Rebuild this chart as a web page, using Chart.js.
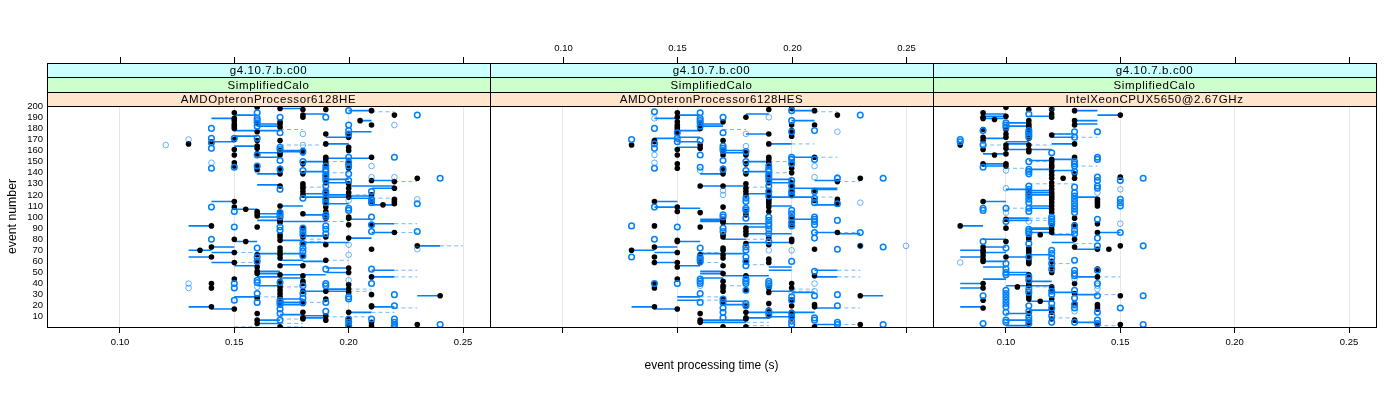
<!DOCTYPE html>
<html>
<head>
<meta charset="utf-8">
<title>event processing time</title>
<script src="https://cdn.jsdelivr.net/npm/chart.js@4/dist/chart.umd.min.js"></script>
<style>
  html, body { margin: 0; background: #fff; }
  canvas { position: absolute; top: 0; }
</style>
</head>
<body>
<canvas id="panelHE" width="500" height="400" style="left:0"></canvas>
<canvas id="panelHES" width="463" height="400" style="left:480px"></canvas>
<canvas id="panelXeon" width="477" height="400" style="left:923px"></canvas>
<script>
// tick labels
const xTicks = [0.10, 0.15, 0.20, 0.25];
const yTicks = [10, 20, 30, 40, 50, 60, 70, 80, 90, 100, 110, 120, 130, 140, 150, 160, 170, 180, 190, 200];
const stripGeant = 'g4.10.7.b.c00';
const stripGeometry = 'SimplifiedCalo';
const cpuNames = ['AMDOpteronProcessor6128HE', 'AMDOpteronProcessor6128HES', 'IntelXeonCPUX5650@2.67GHz'];

// dots / rings are [time, [event numbers]], segments are [from, to, event]
//  AMD 6128HE
const heDots = [
  [0.13, [166]],
  [0.135, [70]],
  [0.14, [168, 92, 73, 64, 40, 36, 19]],
  [0.15, [194, 189, 187, 184, 182, 180, 170, 161, 156, 149, 146, 114, 109, 80, 68, 59, 44, 17]],
  [0.155, [107, 78]],
  [0.16, [199, 185, 177, 169, 164, 162, 157, 146, 143, 105, 103, 101, 91, 66, 59, 55, 51, 49, 27, 13, 7, 4]],
  [0.17, [198, 186, 184, 181, 169, 160, 158, 156, 144, 139, 128, 110, 104, 98, 97, 96, 95, 84, 82, 79, 72, 69, 66, 63, 56, 48, 42, 37, 34, 31, 28, 26, 23, 21, 1]],
  [0.18, [197, 192, 190, 160, 158, 148, 139, 130, 128, 126, 123, 120, 103, 90, 84, 82, 75, 65, 56, 47, 42, 40, 33, 22, 14, 9, 8]],
  [0.19, [197, 175, 166, 154, 152, 149, 147, 138, 135, 131, 124, 120, 116, 114, 112, 109, 105, 99, 82, 75, 61, 33, 26, 11, 7]],
  [0.20, [175, 172, 163, 160, 150, 144, 130, 126, 122, 118, 100, 99, 93, 81, 54, 50, 39, 35, 32, 14, 8, 3]],
  [0.205, [187]],
  [0.21, [196, 183, 154, 133, 120, 114, 93, 71, 46, 30, 20, 19, 5, 2]],
  [0.215, [111]],
  [0.22, [192, 132, 126, 116, 114, 112, 86]],
  [0.23, [135, 74, 3]],
  [0.24, [29]]
];
const heRings = [
  [0.14, [180, 171, 167, 162, 144, 109, 80]],
  [0.15, [171, 145, 105, 91, 40, 36, 25]],
  [0.16, [194, 189, 187, 185, 182, 171, 156, 146, 72, 64, 60, 43, 41, 31, 23]],
  [0.17, [190, 176, 163, 161, 151, 143, 125, 104, 102, 100, 91, 88, 41, 25, 23, 21, 17, 13, 7]],
  [0.18, [159, 150, 142, 117, 90, 87, 84, 76, 72, 69, 65, 38, 31, 27, 23]],
  [0.19, [190, 146, 143, 141, 138, 136, 133, 128, 123, 121, 116, 113, 102, 100, 92, 89, 85, 53, 40, 38, 23, 15]],
  [0.20, [196, 183, 178, 175, 154, 149, 146, 139, 133, 108, 106, 28, 26, 8, 5, 2]],
  [0.21, [123, 116, 113, 100, 93, 87, 53, 40, 8]],
  [0.22, [154, 30, 20, 8, 5, 3, 2, 1]],
  [0.23, [192, 112, 87]],
  [0.24, [135, 3]]
];
const hePale = [
  [0.12, [165]], [0.13, [170, 40, 36]], [0.14, [149]], [0.16, [142, 37]], [0.18, [175, 165]],
  [0.20, [115, 75, 66, 43]], [0.21, [146, 136, 115]], [0.22, [183, 136]], [0.23, [116, 71]]
];
const heSolid = [
  [0.14, 0.15, 189], [0.14, 0.15, 168], [0.15, 0.16, 192], [0.15, 0.16, 173], [0.15, 0.16, 178], [0.15, 0.16, 164],
  [0.16, 0.17, 184], [0.16, 0.17, 182], [0.16, 0.17, 158], [0.16, 0.17, 154], [0.16, 0.17, 178], [0.17, 0.18, 160], [0.17, 0.18, 159],
  [0.16, 0.17, 139], [0.16, 0.17, 129], [0.18, 0.19, 193], [0.17, 0.18, 198], [0.19, 0.20, 172], [0.19, 0.20, 166],
  [0.20, 0.21, 196], [0.205, 0.21, 187], [0.20, 0.21, 177], [0.19, 0.21, 153], [0.18, 0.19, 150], [0.18, 0.19, 141],
  [0.19, 0.20, 134], [0.21, 0.22, 133], [0.19, 0.20, 131], [0.20, 0.22, 128], [0.21, 0.22, 126], [0.18, 0.19, 121],
  [0.18, 0.20, 118], [0.20, 0.21, 117], [0.19, 0.20, 112], [0.21, 0.22, 111], [0.14, 0.15, 114], [0.15, 0.16, 107],
  [0.17, 0.18, 110], [0.16, 0.17, 103], [0.16, 0.17, 100], [0.16, 0.17, 97], [0.17, 0.19, 96], [0.18, 0.19, 102],
  [0.20, 0.21, 98], [0.21, 0.22, 94], [0.21, 0.22, 86], [0.13, 0.14, 92], [0.18, 0.19, 83], [0.20, 0.21, 81],
  [0.15, 0.16, 78], [0.17, 0.18, 79], [0.18, 0.20, 77], [0.13, 0.14, 70], [0.14, 0.15, 73], [0.14, 0.15, 68],
  [0.16, 0.18, 67], [0.23, 0.24, 74], [0.13, 0.14, 64], [0.14, 0.15, 59], [0.15, 0.16, 56], [0.17, 0.18, 61], [0.18, 0.19, 60],
  [0.17, 0.18, 57], [0.19, 0.20, 54], [0.19, 0.20, 50], [0.21, 0.22, 52], [0.21, 0.22, 46], [0.16, 0.17, 51], [0.16, 0.17, 49],
  [0.17, 0.19, 48], [0.16, 0.17, 46], [0.17, 0.18, 45], [0.16, 0.17, 38], [0.19, 0.20, 35], [0.18, 0.20, 33], [0.15, 0.16, 28],
  [0.17, 0.18, 26], [0.17, 0.18, 23], [0.17, 0.18, 21], [0.13, 0.14, 19], [0.14, 0.15, 17], [0.21, 0.22, 19], [0.23, 0.24, 29],
  [0.20, 0.21, 14], [0.17, 0.18, 12], [0.18, 0.19, 11], [0.18, 0.19, 9], [0.16, 0.17, 7], [0.16, 0.17, 4], [0.19, 0.20, 120], [0.20, 0.21, 119]
];
const heDashed = [
  [0.21, 0.22, 195], [0.17, 0.18, 179], [0.19, 0.20, 150], [0.19, 0.20, 140], [0.22, 0.23, 132], [0.17, 0.19, 165],
  [0.21, 0.22, 117], [0.18, 0.19, 127], [0.22, 0.23, 94], [0.22, 0.23, 86], [0.24, 0.25, 74], [0.15, 0.16, 68],
  [0.19, 0.20, 61], [0.15, 0.16, 59], [0.18, 0.19, 80], [0.18, 0.19, 78], [0.22, 0.23, 52], [0.22, 0.23, 46], [0.17, 0.18, 37],
  [0.20, 0.21, 35], [0.20, 0.21, 33], [0.16, 0.17, 28], [0.18, 0.19, 23], [0.22, 0.23, 18], [0.21, 0.22, 14], [0.19, 0.21, 10],
  [0.17, 0.18, 8], [0.17, 0.18, 4], [0.15, 0.16, 1], [0.17, 0.18, 1], [0.19, 0.20, 96], [0.20, 0.21, 120]
];

//  AMD 6128HES
const hesDots = [
  [0.13, [165, 70]],
  [0.14, [169, 168, 114, 92, 73, 64, 59, 40, 36, 19]],
  [0.15, [194, 190, 186, 183, 181, 179, 176, 161, 156, 148, 144, 109, 105, 79, 78, 68, 59, 55, 44, 17]],
  [0.16, [185, 180, 165, 162, 128, 104, 91, 66, 59, 13, 7, 5]],
  [0.17, [186, 169, 160, 159, 156, 144, 139, 128, 109, 98, 97, 96, 95, 84, 82, 72, 70, 66, 63, 56, 49, 42, 38, 36, 33, 26, 23, 1]],
  [0.18, [190, 158, 156, 148, 139, 130, 126, 123, 120, 105, 102, 90, 87, 84, 76, 60, 47, 34, 20, 14, 9, 8, 1]],
  [0.19, [197, 175, 166, 154, 152, 149, 147, 138, 135, 131, 124, 120, 116, 114, 112, 109, 105, 81, 75, 62, 59, 36, 32, 22, 16, 11]],
  [0.20, [198, 183, 178, 176, 173, 149, 144, 140, 131, 128, 125, 122, 120, 100, 96, 93, 80, 78, 40, 36, 25, 20, 14, 9]],
  [0.21, [196, 183, 154, 124, 115, 71, 47, 21, 19, 1]],
  [0.22, [192, 132, 116, 114, 112, 86]],
  [0.23, [135, 74, 29, 3]]
];
const hesRings = [
  [0.13, [170, 92, 64]],
  [0.14, [195, 180, 166, 162, 144, 109, 80, 40]],
  [0.15, [176, 171, 168, 91, 40]],
  [0.16, [194, 189, 187, 185, 182, 169, 156, 145, 72, 64, 62, 60, 44, 42, 40, 31, 23]],
  [0.17, [190, 176, 164, 162, 160, 151, 143, 102, 100, 90, 87, 26, 23, 18, 14, 9]],
  [0.18, [159, 150, 142, 117, 114, 108, 106, 99, 73, 70, 64, 60, 56, 44, 42, 40, 34, 22, 20]],
  [0.19, [146, 143, 141, 138, 136, 133, 128, 123, 119, 100, 97, 94, 92, 89, 85, 78, 42, 40, 38, 15, 12]],
  [0.20, [196, 187, 177, 154, 152, 148, 133, 128, 123, 120, 106, 103, 99, 95, 92, 60, 28, 25, 13, 10, 6, 3]],
  [0.21, [178, 152, 123, 117, 113, 100, 98, 96, 93, 86, 81, 51, 29, 9, 7]],
  [0.22, [135, 112, 97, 71, 30, 20, 5, 3]],
  [0.23, [192, 86]],
  [0.24, [135, 73, 3]]
];
const hesPale = [
  [0.14, [189, 156, 149]], [0.16, [142, 38]], [0.17, [124, 120]], [0.18, [175, 164]],
  [0.19, [190, 70]], [0.20, [70, 32]], [0.21, [146, 136, 40, 33]], [0.22, [177, 136]], [0.23, [113, 74]], [0.25, [74]]
];
const hesSolid = [
  [0.14, 0.15, 189], [0.14, 0.15, 171], [0.14, 0.15, 114], [0.14, 0.15, 109], [0.15, 0.16, 192], [0.15, 0.16, 178], [0.15, 0.16, 172],
  [0.15, 0.16, 168], [0.15, 0.16, 163], [0.15, 0.16, 108], [0.16, 0.17, 184], [0.16, 0.17, 182], [0.16, 0.17, 139], [0.16, 0.18, 128],
  [0.17, 0.18, 160], [0.17, 0.18, 158], [0.18, 0.19, 193], [0.18, 0.19, 175], [0.18, 0.19, 150], [0.18, 0.19, 141], [0.18, 0.19, 121],
  [0.19, 0.20, 166], [0.19, 0.20, 134], [0.19, 0.20, 131], [0.20, 0.21, 196], [0.20, 0.21, 187], [0.20, 0.22, 126], [0.20, 0.21, 154],
  [0.21, 0.22, 133], [0.21, 0.22, 125], [0.21, 0.22, 111], [0.19, 0.20, 118], [0.20, 0.21, 118], [0.19, 0.20, 110],
  [0.16, 0.17, 98], [0.16, 0.17, 97], [0.16, 0.17, 96], [0.17, 0.19, 94], [0.18, 0.19, 91], [0.20, 0.21, 98], [0.18, 0.20, 85],
  [0.21, 0.22, 86], [0.15, 0.16, 78], [0.16, 0.18, 67], [0.18, 0.20, 77], [0.13, 0.14, 70], [0.14, 0.15, 73], [0.14, 0.15, 68],
  [0.14, 0.15, 59], [0.15, 0.16, 56], [0.17, 0.18, 80], [0.23, 0.24, 29], [0.16, 0.17, 51], [0.16, 0.17, 49], [0.17, 0.19, 47],
  [0.16, 0.17, 45], [0.15, 0.16, 28], [0.15, 0.16, 25], [0.17, 0.18, 24], [0.17, 0.18, 21], [0.19, 0.20, 33], [0.20, 0.21, 32],
  [0.13, 0.14, 19], [0.14, 0.15, 17], [0.18, 0.21, 14], [0.21, 0.22, 18], [0.16, 0.18, 7], [0.16, 0.18, 5], [0.19, 0.20, 10], [0.18, 0.19, 9],
  [0.21, 0.22, 52], [0.21, 0.22, 46], [0.19, 0.20, 55], [0.19, 0.20, 52], [0.22, 0.23, 85], [0.21, 0.22, 3]
];
const hesDashed = [
  [0.21, 0.22, 195], [0.17, 0.18, 179], [0.20, 0.21, 166], [0.18, 0.19, 127], [0.19, 0.20, 150], [0.19, 0.20, 140], [0.22, 0.23, 132],
  [0.21, 0.22, 154], [0.21, 0.22, 118], [0.22, 0.23, 86], [0.16, 0.17, 68], [0.16, 0.17, 59], [0.18, 0.19, 80], [0.18, 0.19, 57],
  [0.22, 0.23, 52], [0.22, 0.23, 46], [0.17, 0.18, 38], [0.16, 0.17, 28], [0.16, 0.17, 25], [0.20, 0.21, 35], [0.20, 0.21, 33],
  [0.22, 0.23, 18], [0.19, 0.21, 14], [0.18, 0.19, 5], [0.18, 0.19, 2], [0.22, 0.23, 3]
];

//  Xeon X5650
const xeonDots = [
  [0.08, [165, 92]],
  [0.09, [194, 190, 189, 179, 172, 169, 161, 148, 114, 73, 70, 68, 65, 62, 60, 40, 36, 25, 18]],
  [0.095, [188, 156]],
  [0.10, [199, 191, 179, 175, 172, 165, 162, 157, 148, 146, 98, 90, 78, 64]],
  [0.105, [37]],
  [0.11, [197, 187, 184, 182, 180, 178, 174, 171, 165, 161, 159, 124, 122, 120, 82, 80, 72, 70, 68, 65, 62, 60, 58, 48, 42, 40, 38, 30, 28, 26, 13, 5]],
  [0.115, [84, 24]],
  [0.12, [197, 193, 190, 174, 152, 150, 147, 145, 141, 138, 135, 131, 128, 125, 122, 120, 118, 116, 113, 110, 107, 104, 92, 89, 86, 60, 55, 50, 37, 34, 26, 17, 14, 8]],
  [0.125, [135]],
  [0.13, [196, 187, 183, 166, 154, 139, 135, 99, 93, 80, 73, 40, 31, 22, 7]],
  [0.14, [116, 114, 112, 110, 94, 86, 71, 53, 46, 21, 19, 17, 3]],
  [0.145, [71]],
  [0.15, [192, 136, 74, 29, 3]]
];
const xeonRings = [
  [0.08, [170, 168]],
  [0.09, [178, 165, 145, 108, 106, 78, 29, 4]],
  [0.10, [185, 183, 181, 108, 96, 72, 58, 53, 50, 48, 34, 31, 28, 25, 22, 19, 14, 7, 5]],
  [0.11, [193, 178, 176, 174, 172, 150, 143, 141, 139, 128, 125, 122, 119, 116, 113, 108, 105, 89, 87, 85, 76, 64, 46, 43, 35, 32, 20, 15, 10, 7, 4]],
  [0.12, [158, 100, 98, 96, 94, 70, 67, 63, 58, 53, 33, 30, 22, 18, 11, 5]],
  [0.13, [177, 172, 150, 148, 146, 141, 127, 122, 119, 116, 113, 110, 107, 104, 92, 88, 85, 61, 52, 49, 47, 34, 27, 21, 18, 5]],
  [0.14, [177, 154, 152, 136, 133, 128, 126, 98, 81, 74, 52, 40, 29, 14, 7, 4]],
  [0.15, [133, 116, 113, 110, 86, 18]],
  [0.16, [135, 74, 29, 3]]
];
const xeonPale = [
  [0.08, [59]], [0.09, [166]], [0.10, [142, 126, 104]], [0.11, [96]], [0.12, [199, 36]], [0.13, [44, 15]],
  [0.14, [122, 38, 35]], [0.15, [125, 94]]
];
const xeonSolid = [
  [0.13, 0.14, 196], [0.14, 0.15, 192], [0.09, 0.10, 193], [0.09, 0.10, 191], [0.09, 0.10, 189], [0.10, 0.11, 185], [0.10, 0.11, 182],
  [0.13, 0.14, 187], [0.13, 0.14, 184], [0.11, 0.12, 191], [0.12, 0.13, 175], [0.12, 0.13, 172], [0.09, 0.10, 171], [0.10, 0.11, 168],
  [0.10, 0.11, 166], [0.12, 0.13, 166], [0.10, 0.11, 161], [0.11, 0.12, 161], [0.09, 0.10, 157], [0.12, 0.13, 152], [0.11, 0.12, 151],
  [0.09, 0.10, 146], [0.09, 0.10, 148], [0.11, 0.12, 143], [0.12, 0.13, 142], [0.10, 0.11, 125], [0.11, 0.12, 124], [0.11, 0.12, 122],
  [0.11, 0.12, 120], [0.13, 0.14, 118], [0.09, 0.10, 114], [0.11, 0.12, 110], [0.11, 0.12, 108], [0.10, 0.11, 99], [0.10, 0.11, 97],
  [0.11, 0.12, 89], [0.11, 0.12, 86], [0.08, 0.09, 92], [0.14, 0.15, 86], [0.09, 0.10, 80], [0.12, 0.13, 77], [0.13, 0.14, 71],
  [0.08, 0.09, 70], [0.09, 0.10, 73], [0.09, 0.10, 68], [0.08, 0.09, 64], [0.09, 0.10, 60], [0.10, 0.11, 64], [0.11, 0.12, 66],
  [0.09, 0.10, 55], [0.10, 0.11, 50], [0.10, 0.11, 48], [0.13, 0.14, 46], [0.08, 0.09, 40], [0.08, 0.09, 36], [0.09, 0.10, 44],
  [0.10, 0.12, 38], [0.11, 0.12, 42], [0.12, 0.13, 32], [0.13, 0.14, 30], [0.11, 0.12, 24], [0.08, 0.09, 19], [0.10, 0.11, 13],
  [0.11, 0.12, 16], [0.10, 0.11, 7], [0.10, 0.11, 2], [0.13, 0.14, 5], [0.11, 0.12, 90], [0.12, 0.13, 84]
];
const xeonDashed = [
  [0.09, 0.10, 165], [0.11, 0.12, 165], [0.12, 0.13, 175], [0.13, 0.14, 172], [0.10, 0.11, 144], [0.13, 0.14, 146], [0.11, 0.12, 150],
  [0.11, 0.13, 130], [0.10, 0.11, 108], [0.12, 0.13, 85], [0.13, 0.14, 76], [0.12, 0.13, 58], [0.11, 0.12, 37], [0.14, 0.15, 46],
  [0.14, 0.15, 30], [0.12, 0.13, 9], [0.14, 0.15, 2], [0.11, 0.12, 99], [0.11, 0.12, 97]
];

const BLUE = '#0080ff';
const xMin = 0.0681;
const xMax = 0.2618;
const yMin = 0.8;
const yMax = 200.2;
const FONT = 'Liberation Sans';

//  HELPERS

function toPoints(groups) {
  return groups.flatMap(([t, events]) => events.map(e => ({ x: t, y: e })));
}

function toLines(segments) {
  return segments.flatMap(([a, b, e]) => [{ x: a, y: e }, { x: b, y: e }, { x: null, y: null }]);
}

//  STRIPS + TOP AXIS

const latticeFrame = {
  id: 'latticeFrame',
  afterDraw(chart, args, opts) {
    const { ctx, chartArea: a, scales } = chart;
    const rows = [
      [stripGeant, '#ccffff', 63, 77],
      [stripGeometry, '#ccffcc', 77, 92],
      [opts.cpu, '#ffe5cc', 92, 106],
    ];
    ctx.save();
    ctx.lineWidth = 1;
    ctx.strokeStyle = '#000';
    rows.forEach(([label, fill, top, bottom]) => {
      ctx.fillStyle = fill;
      ctx.fillRect(a.left, top, a.right - a.left, bottom - top);
      ctx.strokeRect(a.left + 0.5, top + 0.5, a.right - a.left, bottom - top);
      ctx.fillStyle = '#000';
      ctx.font = `11.5px "${FONT}"`;
      ctx.letterSpacing = '0.6px';
      ctx.textAlign = 'center';
      ctx.textBaseline = 'middle';
      ctx.fillText(label, (a.left + a.right) / 2, (top + bottom) / 2 + 1);
    });
    ctx.letterSpacing = '0px';
    ctx.strokeRect(a.left + 0.5, a.top + 0.5, a.right - a.left, a.bottom - a.top);

    // top ticks sit above the strips
    xTicks.forEach(v => {
      const px = Math.round(scales.x.getPixelForValue(v)) + 0.5;
      ctx.beginPath();
      ctx.moveTo(px, 57);
      ctx.lineTo(px, 63);
      ctx.stroke();
      if (opts.topLabels) {
        ctx.fillStyle = '#000';
        ctx.font = `9.5px "${FONT}"`;
        ctx.fillText(v.toFixed(2), px, 48);
      }
    });
    ctx.restore();
  },
};

//  PANELS

function drawPanel(id, cfg) {
  new Chart(document.getElementById(id), {
    type: 'scatter',
    data: {
      datasets: [
        {
          data: toLines(cfg.dashed), showLine: true, pointRadius: 0, borderColor: 'rgba(0,128,255,0.55)',
          borderWidth: 1, borderDash: [4, 3], spanGaps: false, order: 4,
        },
        {
          data: toLines(cfg.solid), showLine: true, pointRadius: 0, borderColor: BLUE,
          borderWidth: 1.6, spanGaps: false, order: 3,
        },
        {
          data: toPoints(cfg.dots), pointRadius: 2.8, pointBackgroundColor: '#000',
          pointBorderWidth: 0, showLine: false, order: 2,
        },
        {
          data: toPoints(cfg.pale), pointRadius: 2.8, pointBackgroundColor: 'transparent',
          pointBorderColor: 'rgba(0,128,255,0.75)', pointBorderWidth: 0.8, showLine: false, order: 1,
        },
        {
          data: toPoints(cfg.rings), pointRadius: 2.8, pointBackgroundColor: 'transparent',
          pointBorderColor: BLUE, pointBorderWidth: 1.5, showLine: false, order: 0,
        },
      ],
    },
    plugins: [latticeFrame],
    options: {
      responsive: false,
      animation: false,
      devicePixelRatio: 1,
      layout: { padding: { top: 106, bottom: 27, left: cfg.padLeft, right: cfg.padRight } },
      plugins: {
        legend: { display: false },
        tooltip: { enabled: false },
        latticeFrame: { cpu: cfg.cpu, topLabels: cfg.topLabels },
      },
      scales: {
        x: {
          type: 'linear',
          min: xMin,
          max: xMax,
          afterBuildTicks: s => { s.ticks = xTicks.map(v => ({ value: v })); },
          afterFit: s => { s.height = 46; },
          border: { display: false },
          grid: { color: '#e6e6e6', tickColor: '#000', tickLength: 6 },
          ticks: {
            autoSkip: false, maxRotation: 0, padding: 4, color: '#000',
            font: { family: FONT, size: 9.5 },
            callback: v => (cfg.bottomLabels ? Number(v).toFixed(2) : ''),
          },
          title: {
            display: cfg.xTitle, text: 'event processing time (s)', color: '#000',
            font: { family: FONT, size: 12 }, padding: { top: 0, bottom: 0 },
          },
        },
        y: {
          type: 'linear',
          display: cfg.yAxis,
          min: yMin,
          max: yMax,
          afterBuildTicks: s => { s.ticks = yTicks.map(v => ({ value: v })); },
          afterFit: s => { s.width = cfg.yAxis ? 47 : 0; },
          border: { display: false },
          grid: { display: false, drawTicks: false },
          ticks: {
            autoSkip: false, padding: 4, color: '#000',
            font: { family: FONT, size: 9.5 },
          },
          title: {
            display: true, text: 'event number', color: '#000',
            font: { family: FONT, size: 12.3 }, padding: { top: 5, bottom: 5 },
          },
        },
      },
    },
  });
}

document.addEventListener('DOMContentLoaded', () => {
  drawPanel('panelHE', {
    cpu: cpuNames[0], dots: heDots, rings: heRings, pale: hePale, solid: heSolid, dashed: heDashed,
    padLeft: 0, padRight: 10, yAxis: true, bottomLabels: true, topLabels: false, xTitle: false,
  });
  drawPanel('panelHES', {
    cpu: cpuNames[1], dots: hesDots, rings: hesRings, pale: hesPale, solid: hesSolid, dashed: hesDashed,
    padLeft: 10, padRight: 10, yAxis: false, bottomLabels: false, topLabels: true, xTitle: true,
  });
  drawPanel('panelXeon', {
    cpu: cpuNames[2], dots: xeonDots, rings: xeonRings, pale: xeonPale, solid: xeonSolid, dashed: xeonDashed,
    padLeft: 10, padRight: 24, yAxis: false, bottomLabels: true, topLabels: false, xTitle: false,
  });
});
</script>
</body>
</html>
